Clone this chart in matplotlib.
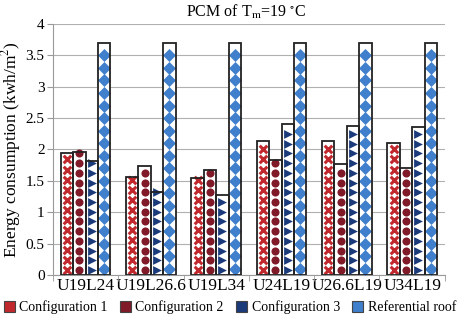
import numpy as np
import matplotlib
matplotlib.use("Agg")
import matplotlib.pyplot as plt
from matplotlib.patches import Patch

plt.rcParams['font.family'] = ['Liberation Serif', 'DejaVu Serif']
plt.rcParams['mathtext.fontset'] = 'stix'

categories = ["U19L24", "U19L26.6", "U19L34", "U24L19", "U26.6L19", "U34L19"]
series_names = ["Configuration 1", "Configuration 2", "Configuration 3", "Referential roof"]
config1 = [1.94, 1.56, 1.55, 2.14, 2.14, 2.10]
config2 = [1.96, 1.73, 1.68, 1.83, 1.77, 1.71]
config3 = [1.82, 1.32, 1.28, 2.40, 2.37, 2.36]
referential = [3.70, 3.70, 3.70, 3.70, 3.70, 3.70]
yticks = [0, 0.5, 1, 1.5, 2, 2.5, 3, 3.5, 4]
ytick_labels = ["0", "0.5", "1", "1.5", "2", "2.5", "3", "3.5", "4"]

series = [config1, config2, config3, referential]
colors = ['#c0282d', '#801a28', '#1b3a7a', '#3f7fcc']
markers = ['x', 'o', '>', 'D']
msizes = [30, 34, 40, 44]
steps = [0.16, 0.155, 0.155, 0.2]

fig = plt.figure(figsize=(4.6, 3.2), dpi=100)
ax = fig.add_axes([0.115, 0.141, 0.852, 0.784])

x = np.arange(len(categories))
w = 0.19
for i, vals in enumerate(series):
    pos = x + (i - 1.5) * w
    ax.bar(pos, vals, width=w, color='white', edgecolor='none', zorder=2)
    for p, v in zip(pos, vals):
        ys = np.arange(steps[i] / 2, v, steps[i])
        kw = dict(s=msizes[i], marker=markers[i], color=colors[i], zorder=3)
        kw['linewidths'] = 2.2 if markers[i] == 'x' else 0
        ax.scatter(np.full(len(ys), p), ys, **kw)
    ax.bar(pos, vals, width=w, facecolor='none', edgecolor='#222222', linewidth=1.3, zorder=4)

ax.set_xlim(-0.5, len(categories) - 0.5)
ax.set_ylim(0, 4)
ax.set_yticks(yticks)
ax.set_yticklabels(ytick_labels, fontsize=11)
ax.yaxis.grid(True, color='#b0b0b0', linewidth=0.8, zorder=0)
ax.set_axisbelow(True)
ax.set_xticks(x)
ax.set_xticklabels(categories, fontsize=12.5)
ax.tick_params(axis='x', length=0, pad=2)
ax.set_xticks(np.arange(-0.5, len(categories), 1), minor=True)
ax.tick_params(axis='x', which='minor', length=4, color='#999999')
ax.tick_params(axis='y', length=4, color='#999999', pad=2)
for s in ['top', 'right']:
    ax.spines[s].set_visible(False)
for s in ['left', 'bottom']:
    ax.spines[s].set_color('#999999')
ax.set_ylabel("Energy consumption (kwh/m$^2$)", fontsize=12.5, labelpad=2)

fig.text(0.535, 0.962, r"PCM of T$_{\rm m}$=19 $^{\circ}$C", ha='center', va='center', fontsize=11.5)

handles = [Patch(facecolor=c, edgecolor='#444444', linewidth=0.8) for c in colors]
fig.legend(handles, series_names, loc='center', bbox_to_anchor=(0.5, 0.04), ncol=4,
           frameon=False, fontsize=10, handlelength=0.8, handleheight=0.8,
           handletextpad=0.3, columnspacing=0.9, borderaxespad=0)

fig.savefig("out.png", dpi=100)
